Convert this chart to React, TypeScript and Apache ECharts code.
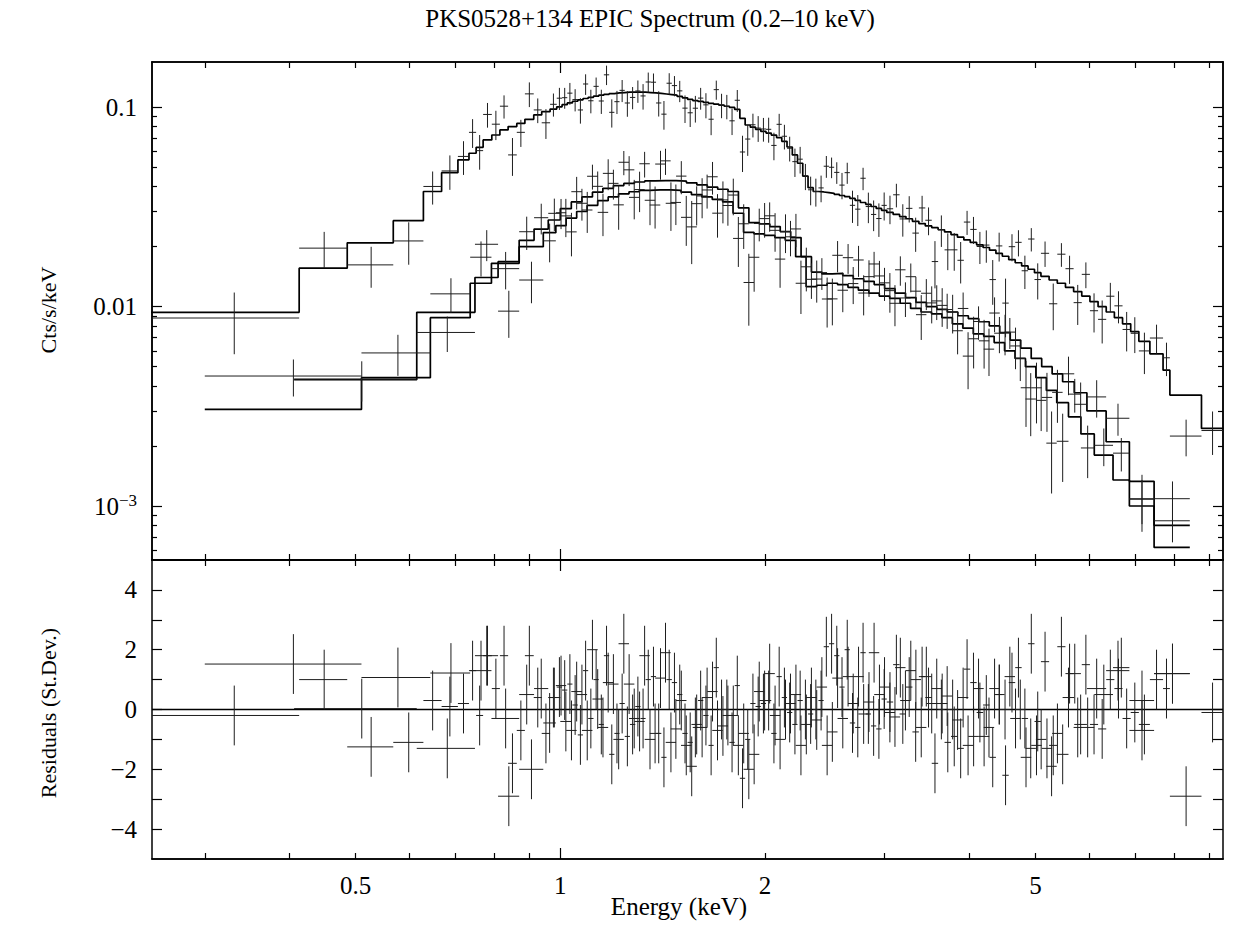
import React, { useEffect, useRef } from 'react';
import * as echarts from 'echarts';

// ---------------- data ----------------
// EPIC-pn: bin edges (keV), folded model (cts/s/keV), residuals (sigma), relative 1-sigma error
const PN_EDGES = [0.25, 0.413, 0.486, 0.568, 0.629, 0.669, 0.707, 0.734, 0.752, 0.770, 0.793, 0.815, 0.838, 0.863, 0.887, 0.914, 0.939, 0.966, 0.988, 1.006, 1.024, 1.042, 1.061, 1.080, 1.099, 1.119, 1.139, 1.159, 1.180, 1.201, 1.222, 1.244, 1.266, 1.289, 1.312, 1.335, 1.359, 1.383, 1.408, 1.433, 1.459, 1.485, 1.512, 1.539, 1.566, 1.594, 1.623, 1.652, 1.681, 1.711, 1.742, 1.773, 1.805, 1.837, 1.870, 1.903, 1.937, 1.972, 2.007, 2.043, 2.080, 2.117, 2.155, 2.194, 2.233, 2.273, 2.314, 2.355, 2.397, 2.440, 2.484, 2.528, 2.573, 2.619, 2.666, 2.714, 2.763, 2.813, 2.864, 2.915, 2.968, 3.021, 3.087, 3.155, 3.224, 3.295, 3.368, 3.442, 3.518, 3.595, 3.674, 3.755, 3.838, 3.922, 4.008, 4.096, 4.186, 4.278, 4.372, 4.468, 4.566, 4.667, 4.770, 4.875, 4.982, 5.092, 5.235, 5.382, 5.533, 5.688, 5.847, 6.011, 6.179, 6.352, 6.530, 6.713, 6.901, 7.094, 7.364, 7.700, 7.880, 8.770, 9.440];
const PN_MODEL = [0.00937, 0.0156, 0.0209, 0.027, 0.0378,
  0.047, 0.0545, 0.0588, 0.063, 0.0686, 0.0726, 0.077, 0.080, 0.083, 0.087, 0.0915, 0.095, 0.098,
  0.1005, 0.103, 0.1052, 0.1072, 0.109, 0.1107, 0.1122, 0.1137, 0.115, 0.1162, 0.1172, 0.118, 0.1185, 0.119, 0.1192, 0.1192, 0.119, 0.1185, 0.118, 0.1173, 0.1166, 0.1158, 0.115, 0.1135, 0.1115, 0.1095, 0.108, 0.107, 0.1058, 0.1047, 0.1037, 0.1025, 0.1012, 0.0998, 0.0975, 0.088, 0.0815, 0.0795, 0.0775, 0.0757, 0.0742, 0.0725, 0.0705, 0.0675, 0.0632, 0.0577, 0.0524, 0.0452, 0.0395, 0.0378, 0.0376, 0.0373, 0.037, 0.0366, 0.0361, 0.0356, 0.0349, 0.0341, 0.0333, 0.0326, 0.0318, 0.0311, 0.0304,
  0.0297, 0.029, 0.0283, 0.0276, 0.0268, 0.0261, 0.0254, 0.0249, 0.0243, 0.0237, 0.023, 0.0223, 0.0216, 0.021, 0.0204, 0.0198, 0.0192, 0.0185, 0.0179, 0.0172, 0.0166, 0.016, 0.0154, 0.0148,
  0.0142, 0.0136, 0.0131, 0.0125, 0.0119, 0.0113, 0.0106, 0.0100, 0.0094, 0.0088, 0.0082, 0.0075, 0.0067,
  0.0058, 0.0048, 0.0036, 0.00245];
const PN_RESID = [-0.2, 1.0, -1.25, -1.1, 0.3,
  0.1, 0.2, 1.3, -0.2, 1.8, 0.7, 1.8, -1.8, -0.7, 1.8, 0.4, -0.8, 0.4,
  0.75, 0.65, 0.85, 0.15, -0.85, 1.3, -0.3, 1.0, -0.5, 1.8, -1.5, -0.8, 0.2, -0.9, -0.5, 0.1, -0.3, 1.0, 1.1, -0.8, -1.6, 1.0, 0.9, 0.5, -0.8, -1.1, -0.6, 0.3, -0.2, -1.2, 1.4, 0, 0, -1.1, 0.8, -2.3, -1.0, 0.2, 0.1, 0.2, 0.3, -0.8, 1.1, 0.4, -0.1, -0.5, 0.3, 0, -0.15, 0, 0.3, 2.1, 2.2, 1.8, 0.75, 2.0, -0.45, -0.6, 1.9, -0.15, -0.55, -0.65, 0.35,
  0.25, 1.5, -0.15, 0.75, -0.75, 1.1, 0.4, -1.8, 0, -1.1, -0.9, -1.3, 1.35, 0.9, -0.1, 0.15, -1.6, 0.5, -2.2, 0.9, 1.4, -0.3, 2.2, -0.4,
  1.6, -1.2, 2.1, 1.2, -0.6, 1.5, -0.5, -0.65, 1.0, 0.7, -0.3, -0.1, -0.5,
  1.0, 0.7, -2.9, -0.1];
const PN_RELERR = [0.32, 0.26, 0.18, 0.19, 0.2,
  0.2, 0.2, 0.21, 0.19, 0.19, 0.19, 0.175, 0.155, 0.14, 0.19, 0.15, 0.15, 0.14,
  0.14, 0.13, 0.14, 0.13, 0.13, 0.14, 0.13, 0.12, 0.13, 0.14, 0.13, 0.12, 0.13, 0.13, 0.12, 0.13, 0.14, 0.13, 0.12, 0.13, 0.13, 0.14, 0.13, 0.13, 0.14, 0.13, 0.14, 0.13, 0.14, 0.14, 0.13, 0.14, 0.14, 0.13, 0.14, 0.14, 0.15, 0.14, 0.15, 0.14, 0.15, 0.14, 0.15, 0.15, 0.14, 0.15, 0.16, 0.15, 0.16, 0.16, 0.16, 0.17, 0.16, 0.16, 0.17, 0.16, 0.17, 0.16, 0.17, 0.17, 0.16, 0.17, 0.17,
  0.17, 0.17, 0.18, 0.17, 0.17, 0.18, 0.17, 0.18, 0.18, 0.17, 0.18, 0.18, 0.17, 0.18, 0.18, 0.19, 0.18, 0.18, 0.19, 0.18, 0.19, 0.18, 0.19, 0.19,
  0.19, 0.2, 0.19, 0.2, 0.2, 0.19, 0.2, 0.21, 0.2, 0.21, 0.21, 0.2, 0.21,
  0.2, 0.22, 0.13, 0.24];

// EPIC-MOS (upper of the two MOS models)
const MOSA_EDGES = [0.30, 0.51, 0.644, 0.737, 0.792, 0.870, 0.915, 0.960, 1.000, 1.038, 1.076, 1.115, 1.155, 1.197, 1.240, 1.285, 1.331, 1.379, 1.429, 1.480, 1.533, 1.588, 1.645, 1.704, 1.765, 1.828, 1.894, 1.962, 2.033, 2.106, 2.182, 2.260, 2.341, 2.425, 2.512, 2.603, 2.697, 2.794, 2.895, 2.999, 3.107, 3.219, 3.335, 3.455, 3.580, 3.709, 3.843, 3.982, 4.126, 4.275, 4.429, 4.589, 4.755, 4.927, 5.105, 5.289, 5.480, 5.700, 5.950, 6.350, 6.870, 7.470, 8.430];
const MOSA_MODEL = [0.00305, 0.0044, 0.0088, 0.0131, 0.0165, 0.0215, 0.0245, 0.0272, 0.031, 0.0335, 0.0355, 0.0375, 0.0392, 0.0405, 0.0415, 0.0422, 0.0427, 0.0429, 0.0429, 0.0426, 0.0418, 0.0408, 0.0398, 0.0388, 0.0378, 0.0313, 0.0264, 0.026, 0.0252, 0.0238, 0.0222, 0.0178, 0.0149, 0.0146, 0.0147, 0.0143, 0.0138, 0.0134, 0.0129, 0.0123, 0.0117, 0.0111, 0.0105, 0.0100, 0.0097, 0.0094, 0.0090, 0.0087, 0.0084, 0.0080, 0.0074, 0.0068, 0.0062, 0.0055, 0.0050, 0.0046, 0.0042, 0.0037, 0.0030, 0.0021, 0.00133, 0.0008];
const MOSA_RESID = [1.52, 1.07, 1.22, 1.3, -0.3, 0.5, 0.7, 0.4, -0.4, 0.6, -0.7, 0.35, 0.9, -1.0, 0.85, -0.4, -1.0, 1.05, -1.1, 0.3, -1.9, -0.6, 0.6, -0.55, -0.2, -0.8, -1.5, 0.3, -0.2, 0, 0.5, -0.5, -0.35, -1.2, 1.05, 1.1, 1.1, 0.25, 0.5, -0.1, 1.4, 1.3, -0.6, 0.2, 0.2, 0, 0.4, -0.9, -0.9, 0.7, 0, -0.3, -1.6, -1.2, -1.3, -0.8, 0.4, -0.5, 0.7, 1.3, -0.7, 1.2];
const MOSA_RELERR = [0.31, 0.31, 0.26, 0.27, 0.2, 0.21, 0.2, 0.2, 0.2, 0.21, 0.2, 0.2, 0.21, 0.2, 0.2, 0.21, 0.2, 0.2, 0.21, 0.2, 0.21, 0.2, 0.21, 0.21, 0.2, 0.21, 0.22, 0.21, 0.21, 0.22, 0.21, 0.22, 0.22, 0.21, 0.22, 0.21, 0.22, 0.22, 0.21, 0.22, 0.22, 0.21, 0.22, 0.22, 0.23, 0.22, 0.22, 0.23, 0.22, 0.23, 0.23, 0.22, 0.23, 0.24, 0.23, 0.24, 0.24, 0.25, 0.25, 0.24, 0.26, 0.3];

// EPIC-MOS (lower of the two MOS models)
const MOSB_EDGES = [0.406, 0.615, 0.749, 0.810, 0.870, 0.944, 0.985, 1.020, 1.057, 1.095, 1.135, 1.176, 1.218, 1.262, 1.307, 1.354, 1.403, 1.453, 1.505, 1.559, 1.615, 1.673, 1.733, 1.795, 1.860, 1.927, 1.996, 2.068, 2.142, 2.219, 2.299, 2.382, 2.468, 2.557, 2.649, 2.744, 2.843, 2.945, 3.051, 3.161, 3.275, 3.393, 3.515, 3.641, 3.772, 3.908, 4.049, 4.195, 4.346, 4.502, 4.664, 4.832, 5.006, 5.186, 5.372, 5.590, 5.830, 6.100, 6.500, 6.870, 7.470, 8.430];
const MOSB_MODEL = [0.0043, 0.00937, 0.0140, 0.0168, 0.0200, 0.0235, 0.0255, 0.0278, 0.0300, 0.0322, 0.0340, 0.0355, 0.0368, 0.0377, 0.0383, 0.0385, 0.0385, 0.0383, 0.0375, 0.0365, 0.0355, 0.0345, 0.0335, 0.0294, 0.0236, 0.0232, 0.0228, 0.0222, 0.0215, 0.0178, 0.0126, 0.0128, 0.0131, 0.0129, 0.0125, 0.0121, 0.0117, 0.0113, 0.0110, 0.0104, 0.0098, 0.0094, 0.0092, 0.0088, 0.0082, 0.0078, 0.0073, 0.0071, 0.0066, 0.0060, 0.0055, 0.0050, 0.0044, 0.0038, 0.0033, 0.0028, 0.0023, 0.0018, 0.00135, 0.0010, 0.00062];
const MOSB_RESID = [0.03, -1.3, 1.8, -2.9, -2.0, -0.45, 0.8, -0.7, 0.5, 2.0, -0.6, 0.85, 2.2, -0.3, 1.8, -0.8, 1.9, -0.65, -1.2, -0.5, 0.4, -0.7, -0.2, -1.2, -2.0, 0.6, 1.2, -1.0, 0.2, -1.2, 0.4, 0.75, -0.75, -0.3, 0.2, -0.15, 1.9, 0.75, -0.25, 0.3, 1.0, 1.1, 0.7, 0.45, -0.35, -1.2, 0.7, -0.6, 0.5, 1.1, 0, -1.3, -1.0, -1.9, -1.5, 1.2, -0.6, 0.5, 1.4, 0.3, 1.2];
const MOSB_RELERR = [0.23, 0.16, 0.26, 0.15, 0.16, 0.2, 0.2, 0.21, 0.2, 0.2, 0.21, 0.2, 0.2, 0.21, 0.2, 0.2, 0.21, 0.2, 0.21, 0.2, 0.21, 0.21, 0.2, 0.21, 0.22, 0.21, 0.21, 0.22, 0.21, 0.22, 0.22, 0.21, 0.22, 0.21, 0.22, 0.22, 0.21, 0.22, 0.22, 0.21, 0.22, 0.22, 0.23, 0.22, 0.22, 0.23, 0.22, 0.23, 0.23, 0.22, 0.23, 0.24, 0.23, 0.24, 0.24, 0.25, 0.25, 0.24, 0.26, 0.27, 0.3];

// axes
const X_MIN_KEV = 0.2509;
const X_MAX_KEV = 9.433;
const Y_TOP_MIN = 5.36e-4;
const Y_TOP_MAX = 0.1687;
const RES_MIN = -5;
const RES_MAX = 5;
const X_MAJOR = [1];
const X_MINOR = [0.3, 0.4, 0.5, 0.6, 0.7, 0.8, 0.9, 2, 3, 4, 5, 6, 7, 8, 9];
const X_LABELS = [0.5, 1, 2, 5];
const Y_MAJOR = [0.1, 0.01, 0.001];
const Y_MINOR = [0.09, 0.08, 0.07, 0.06, 0.05, 0.04, 0.03, 0.02, 0.009, 0.008, 0.007, 0.006, 0.005, 0.004, 0.003, 0.002, 0.0009, 0.0008, 0.0007, 0.0006];
const RES_TICKS = [-4, -3, -2, -1, 0, 1, 2, 3, 4];
const RES_LABELS = [-4, -2, 0, 2, 4];

const TITLE = 'PKS0528+134 EPIC Spectrum (0.2\u201310 keV)';
const X_NAME = 'Energy (keV)';
const Y_TOP_NAME = 'Cts/s/keV';
const Y_BOT_NAME = 'Residuals (St.Dev.)';

// ---------------- helpers ----------------
const FONT = '"Liberation Serif", "Times New Roman", Times, serif';
const lg = (v: number) => Math.log10(v);
const LX0 = lg(X_MIN_KEV);
const LX1 = lg(X_MAX_KEV);
const LY0 = lg(Y_TOP_MIN);
const LY1 = lg(Y_TOP_MAX);

type Bin = { lo: number; hi: number; c: number; m: number; d: number; e: number; r: number };

function buildBins(edges: number[], model: number[], resid: number[], rel: number[]): Bin[] {
  const out: Bin[] = [];
  const n = Math.min(edges.length - 1, model.length);
  for (let i = 0; i < n; i++) {
    const lo = edges[i];
    const hi = edges[i + 1];
    const m = model[i];
    const e = (rel[i] ?? 0.2) * m;
    const r = resid[i] ?? 0;
    out.push({ lo, hi, c: (lo + hi) / 2, m, e, r, d: m + r * e });
  }
  return out;
}

const DATASETS = [
  buildBins(PN_EDGES, PN_MODEL, PN_RESID, PN_RELERR),
  buildBins(MOSA_EDGES, MOSA_MODEL, MOSA_RESID, MOSA_RELERR),
  buildBins(MOSB_EDGES, MOSB_MODEL, MOSB_RESID, MOSB_RELERR),
];

const stepData = (bins: Bin[]) => {
  const pts: number[][] = [];
  bins.forEach((b) => {
    pts.push([lg(b.lo), lg(b.m)]);
    pts.push([lg(b.hi), lg(b.m)]);
  });
  return pts;
};
const crossData = (bins: Bin[]) =>
  bins.map((b) => [lg(b.lo), lg(b.hi), lg(b.c), lg(Math.max(b.d, 1e-6)), lg(Math.max(b.d - b.e, 1e-6)), lg(b.d + b.e)]);
const residData = (bins: Bin[]) => bins.map((b) => [lg(b.lo), lg(b.hi), lg(b.c), b.r, b.r - 1, b.r + 1]);

const crossSeries = (data: number[][], xi: number, yi: number) => ({
  type: 'custom',
  xAxisIndex: xi,
  yAxisIndex: yi,
  data,
  clip: true,
  silent: true,
  z: 4,
  encode: { x: [0, 1, 2], y: [3, 4, 5] },
  renderItem: (_params: any, api: any) => {
    const a = api.coord([api.value(0), api.value(3)]);
    const b = api.coord([api.value(1), api.value(3)]);
    const c = api.coord([api.value(2), api.value(4)]);
    const d = api.coord([api.value(2), api.value(5)]);
    const st = { stroke: '#1e1e1e', lineWidth: 1, fill: null };
    return {
      type: 'group',
      children: [
        { type: 'line', shape: { x1: a[0], y1: a[1], x2: b[0], y2: b[1] }, style: st },
        { type: 'line', shape: { x1: c[0], y1: c[1], x2: d[0], y2: d[1] }, style: st },
      ],
    };
  },
});

const AXIS_LINE = { show: true, onZero: false, lineStyle: { color: '#000', width: 1.5 } };
const TICK_STYLE = { color: '#000', width: 1.2 };
const NO_LABEL = { show: false };
const LABEL_BASE = { show: true, color: '#000', fontFamily: FONT, fontSize: 25 };

function xAxisDef(grid: number, position: string, ticks: number[], length: number, label: any = NO_LABEL) {
  return {
    type: 'value', gridIndex: grid, position, min: LX0, max: LX1,
    axisLine: AXIS_LINE,
    axisTick: { show: true, inside: true, length, customValues: ticks.map(lg), lineStyle: TICK_STYLE },
    axisLabel: label,
    splitLine: { show: false },
  };
}
function yTopDef(position: string, ticks: number[], length: number, label: any = NO_LABEL) {
  return {
    type: 'value', gridIndex: 0, position, min: LY0, max: LY1,
    axisLine: AXIS_LINE,
    axisTick: { show: true, inside: true, length, customValues: ticks.map(lg), lineStyle: TICK_STYLE },
    axisLabel: label,
    splitLine: { show: false },
  };
}
function yResDef(position: string, label: any = NO_LABEL) {
  return {
    type: 'value', gridIndex: 1, position, min: RES_MIN, max: RES_MAX,
    axisLine: AXIS_LINE,
    axisTick: { show: true, inside: true, length: 10, customValues: RES_TICKS, lineStyle: TICK_STYLE },
    axisLabel: label,
    splitLine: { show: false },
  };
}

const xLabel = {
  ...LABEL_BASE,
  customValues: X_LABELS.map(lg),
  margin: 14,
  formatter: (v: number) => {
    const e = Math.pow(10, v);
    return e < 0.95 ? e.toFixed(1) : String(Math.round(e));
  },
};
const yTopLabel = {
  ...LABEL_BASE,
  customValues: Y_MAJOR.map(lg),
  margin: 15,
  formatter: (v: number) => {
    const k = Math.round(v);
    if (k === -1) return '0.1';
    if (k === -2) return '0.01';
    return '10{sup|\u22123}';
  },
  rich: {
    sup: { fontFamily: FONT, fontSize: 17, color: '#000', padding: [0, 0, 12, 0], verticalAlign: 'bottom' },
  },
};
const yResLabel = {
  ...LABEL_BASE,
  customValues: RES_LABELS,
  margin: 15,
  formatter: (v: number) => (v < 0 ? '\u2212' + Math.abs(v) : String(v)),
};

const textEl = (text: string, x: number, y: number, size: number, rotation = 0) => ({
  type: 'text',
  x,
  y,
  rotation,
  silent: true,
  style: {
    text,
    fill: '#000',
    font: `${size}px ${FONT}`,
    align: 'center',
    verticalAlign: 'middle',
    textAlign: 'center',
    textVerticalAlign: 'middle',
  },
});

const option: any = {
  animation: false,
  backgroundColor: '#ffffff',
  grid: [
    { left: 152, top: 62, width: 1071, height: 498, outerBoundsMode: 'none' },
    { left: 152, top: 560, width: 1071, height: 299, outerBoundsMode: 'none' },
  ],
  xAxis: [
    xAxisDef(0, 'bottom', X_MAJOR, 11),
    xAxisDef(0, 'bottom', X_MINOR, 6),
    xAxisDef(0, 'top', X_MAJOR, 11),
    xAxisDef(0, 'top', X_MINOR, 6),
    xAxisDef(1, 'bottom', X_MAJOR, 11, xLabel),
    xAxisDef(1, 'bottom', X_MINOR, 6),
    xAxisDef(1, 'top', X_MAJOR, 11),
    xAxisDef(1, 'top', X_MINOR, 6),
  ],
  yAxis: [
    yTopDef('left', Y_MAJOR, 10, yTopLabel),
    yTopDef('left', Y_MINOR, 5),
    yTopDef('right', Y_MAJOR, 10),
    yTopDef('right', Y_MINOR, 5),
    yResDef('left', yResLabel),
    yResDef('right'),
  ],
  graphic: [
    textEl(TITLE, 650, 18, 25),
    textEl(X_NAME, 679, 906, 25),
    textEl(Y_TOP_NAME, 48, 310, 22, Math.PI / 2),
    textEl(Y_BOT_NAME, 48, 713, 22, Math.PI / 2),
  ],
  series: [
    ...DATASETS.map((bins) => ({
      type: 'line',
      xAxisIndex: 0,
      yAxisIndex: 0,
      data: stepData(bins),
      symbol: 'none',
      showSymbol: false,
      silent: true,
      clip: true,
      z: 3,
      lineStyle: { color: '#000', width: 1.7 },
    })),
    ...DATASETS.map((bins) => crossSeries(crossData(bins), 0, 0)),
    {
      type: 'line',
      xAxisIndex: 4,
      yAxisIndex: 4,
      data: [[LX0, 0], [LX1, 0]],
      symbol: 'none',
      silent: true,
      z: 3,
      lineStyle: { color: '#000', width: 1.5 },
    },
    ...DATASETS.map((bins) => crossSeries(residData(bins), 4, 4)),
  ],
};

export default function App() {
  const ref = useRef<HTMLDivElement>(null);
  useEffect(() => {
    if (!ref.current) return;
    const chart = echarts.init(ref.current, undefined, { renderer: 'svg' });
    chart.setOption(option);
    return () => chart.dispose();
  }, []);
  return (
    <div
      ref={ref}
      style={{ position: 'absolute', left: 0, top: 0, width: 1233, height: 925, background: '#fff' }}
    />
  );
}
